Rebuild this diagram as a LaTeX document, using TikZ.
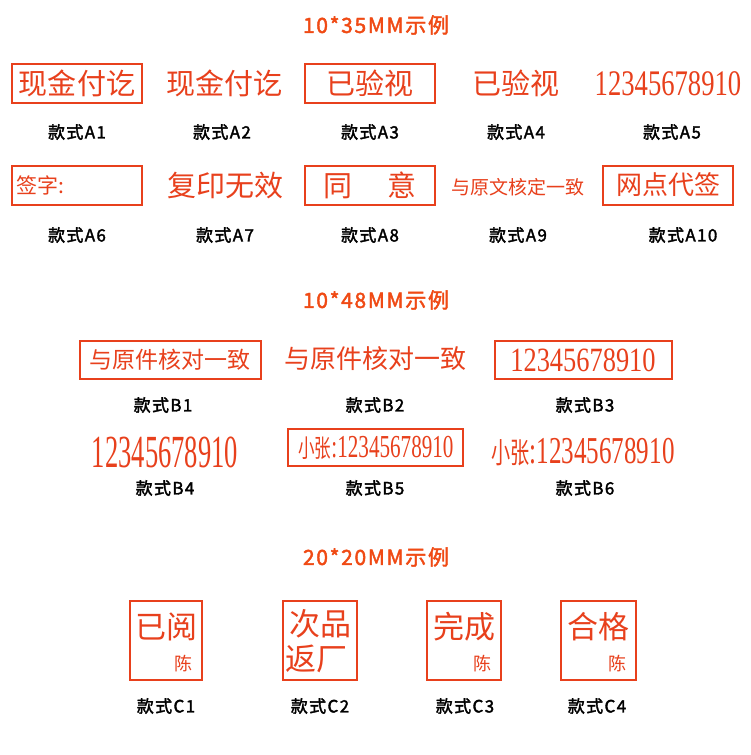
\documentclass[tikz,border=0pt]{standalone}
\usepackage{fontspec}
\setmainfont{Liberation Serif}
\newfontfamily\cjk{Noto Sans CJK SC}
\newfontfamily\cjkb{Noto Sans CJK SC}[FakeBold=2,LetterSpace=8]
\definecolor{stamp}{HTML}{E8401C}
\definecolor{ttl}{HTML}{F04A14}
\tikzset{
 ttlnode/.style={text=ttl,font=\cjkb\fontsize{21}{21}\selectfont},
 lbl/.style={font=\cjkb\fontsize{17}{17}\selectfont},
 stxt/.style={text=stamp,font=\cjk\fontsize{29}{29}\selectfont},
 dig/.style={text=stamp,font=\fontsize{36}{36}\selectfont,xscale=0.74},
 sbox/.style={draw=stamp,line width=2.6pt},
}
\begin{document}
\begin{tikzpicture}[x=1pt,y=-1pt]
\useasboundingbox[fill=white] (0,0) rectangle (750,755);
\node[ttlnode] (t1) at (376,25) {10*35MM示例};
% row A1-A5
\draw[sbox] (12,64) rectangle (142,103);
\node[stxt] (a1) at (77,83) {现金付讫};
\node[stxt] (a2) at (224,83) {现金付讫};
\draw[sbox] (305,64) rectangle (435,103);
\node[stxt] (a3) at (370,83) {已验视};
\node[stxt] (a4) at (516,83) {已验视};
\node[dig] (a5) at (668,84) {12345678910};
\node[lbl] (la1) at (77,132) {款式A1};
\node[lbl] (la2) at (222,132) {款式A2};
\node[lbl] (la3) at (370,132) {款式A3};
\node[lbl] (la4) at (516,132) {款式A4};
\node[lbl] (la5) at (672,132) {款式A5};
% row A6-A10
\draw[sbox] (12,166) rectangle (142,205);
\node[stxt,font=\cjk\fontsize{21}{21}\selectfont,anchor=west] (a6) at (13,185) {签字:};
\node[stxt] (a7) at (225,186) {复印无效};
\draw[sbox] (305,166) rectangle (435,205);
\node[stxt] (a8) at (370,185) {同\hspace{1.2em}意};
\node[stxt,font=\cjk\fontsize{19}{19}\selectfont] (a9) at (518,187) {与原文核定一致};
\draw[sbox] (603,166) rectangle (733,205);
\node[stxt,font=\cjk\fontsize{26}{26}\selectfont] (a10) at (668,185) {网点代签};
\node[lbl] (la6) at (77,235) {款式A6};
\node[lbl] (la7) at (225,235) {款式A7};
\node[lbl] (la8) at (370,235) {款式A8};
\node[lbl] (la9) at (518,235) {款式A9};
\node[lbl] (la10) at (683,235) {款式A10};
% B
\node[ttlnode] (t2) at (376,300) {10*48MM示例};
\draw[sbox] (80,341) rectangle (261,379);
\node[stxt,font=\cjk\fontsize{23}{23}\selectfont] (b1) at (170,360) {与原件核对一致};
\node[stxt,font=\cjk\fontsize{26}{26}\selectfont] (b2) at (375,359) {与原件核对一致};
\draw[sbox] (495,341) rectangle (672,379);
\node[dig,font=\fontsize{34}{34}\selectfont,xscale=1.05] (b3) at (583,360) {12345678910};
\node[lbl] (lb1) at (163,405) {款式B1};
\node[lbl] (lb2) at (375,405) {款式B2};
\node[lbl] (lb3) at (585,405) {款式B3};
\node[dig,font=\fontsize{46}{46}\selectfont,xscale=0.78] (b4) at (165,452) {12345678910};
\draw[sbox] (288,429) rectangle (463,466);
\node[stxt,font=\fontsize{32}{32}\selectfont,xscale=0.66] (b5) at (376,448) {{\cjk\fontsize{25}{25}\selectfont 小张}:12345678910};
\node[stxt,font=\fontsize{38}{38}\selectfont,xscale=0.66] (b6) at (583,452) {{\cjk\fontsize{29}{29}\selectfont 小张}:12345678910};
\node[lbl] (lb4) at (165,488) {款式B4};
\node[lbl] (lb5) at (375,488) {款式B5};
\node[lbl] (lb6) at (585,488) {款式B6};
% C
\node[ttlnode] (t3) at (376,557) {20*20MM示例};
\foreach \n/\xa/\xb/\top/\bot in {1/130/202/已阅/陈, 3/427/501/完成/陈, 4/561/636/合格/陈}{
  \draw[sbox] (\xa,601) rectangle (\xb,680);
  \node[stxt,font=\cjk\fontsize{31}{31}\selectfont] (c\n) at ({(\xa+\xb)/2},627) {\top};
  \node[stxt,font=\cjk\fontsize{18}{18}\selectfont,anchor=east] (cs\n) at ({\xb-6},664) {\bot};
}
\draw[sbox] (283,601) rectangle (357,680);
\node[stxt,font=\cjk\fontsize{31}{31}\selectfont] (c2a) at (320,624) {次品};
\node[stxt,font=\cjk\fontsize{31}{31}\selectfont] (c2b) at (316,659) {返厂};
\node[lbl] (lc1) at (166,706) {款式C1};
\node[lbl] (lc2) at (320,706) {款式C2};
\node[lbl] (lc3) at (465,706) {款式C3};
\node[lbl] (lc4) at (597,706) {款式C4};
\end{tikzpicture}
\end{document}
